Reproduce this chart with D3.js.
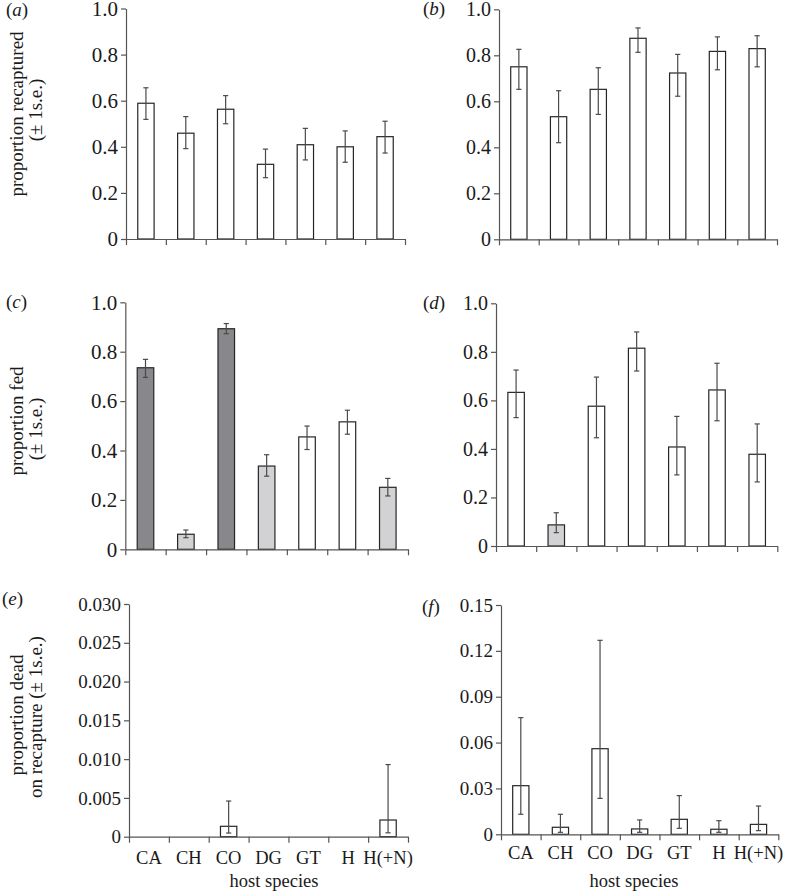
<!DOCTYPE html>
<html><head><meta charset="utf-8">
<script src="https://cdn.jsdelivr.net/npm/d3@7"></script>
<style>
body{margin:0;background:#fff}
svg{display:block}
</style>
</head><body>
<script>
// ---------- data ----------
const categories = ["CA","CH","CO","DG","GT","H","H(+N)"];

// (a) proportion recaptured
const aMean = [0.589,0.459,0.563,0.324,0.409,0.400,0.444];
const aLow  = [0.519,0.392,0.500,0.266,0.343,0.333,0.373];
const aHigh = [0.656,0.531,0.622,0.390,0.480,0.469,0.511];

// (b) proportion recaptured
const bMean = [0.750,0.533,0.652,0.874,0.723,0.817,0.829];
const bLow  = [0.652,0.420,0.543,0.813,0.622,0.737,0.750];
const bHigh = [0.826,0.646,0.746,0.919,0.804,0.880,0.885];

// (c) proportion fed
const cMean = [0.735,0.061,0.893,0.337,0.455,0.516,0.251];
const cLow  = [0.696,0.047,0.873,0.296,0.404,0.466,0.216];
const cHigh = [0.769,0.078,0.914,0.383,0.499,0.563,0.287];
const cFill = ["dark","light","dark","light","white","white","light"];

// (d) proportion fed
const dMean = [0.633,0.087,0.576,0.815,0.408,0.643,0.378];
const dLow  = [0.529,0.055,0.446,0.721,0.293,0.516,0.264];
const dHigh = [0.725,0.137,0.696,0.882,0.534,0.753,0.503];
const dFill = ["white","light","white","white","white","white","white"];

// (e) proportion dead on recapture
const eMean = [0,0,0.00134,0,0,0,0.00215];
const eLow  = [0,0,0.00047,0,0,0,0.0005];
const eHigh = [0,0,0.0046,0,0,0,0.0093];

// (f) proportion dead on recapture
const fMean = [0.0318,0.0046,0.0560,0.0035,0.0098,0.0033,0.0065];
const fLow  = [0.0131,0.0013,0.0235,0.0013,0.0039,0.0013,0.0024];
const fHigh = [0.0763,0.0131,0.1269,0.0094,0.0253,0.0089,0.0185];

const propTicks = [0,0.2,0.4,0.6,0.8,1.0];
const propTickLabels = ["0","0.2","0.4","0.6","0.8","1.0"];
const eTicks = [0,0.005,0.010,0.015,0.020,0.025,0.030];
const eTickLabels = ["0","0.005","0.010","0.015","0.020","0.025","0.030"];
const fTicks = [0,0.03,0.06,0.09,0.12,0.15];
const fTickLabels = ["0","0.03","0.06","0.09","0.12","0.15"];

const xTitle = "host species";
const yTitleA = ["proportion recaptured","(\u00b1 1s.e.)"];
const yTitleC = ["proportion fed","(\u00b1 1s.e.)"];
const yTitleE = ["proportion dead","on recapture (\u00b1 1s.e.)"];

// ---------- layout ----------
const W = 789, H = 893;
const FONT = "\"Liberation Serif\"";
const TXT = "#1a1a1a";
const fills = {white:"#ffffff", light:"#d2d2d4", dark:"#88888c"};
const AXIS = "#555", BAR = "#262626", ERR = "#4a4a4a";

const panels = [
  {id:"a", mean:aMean, lo:aLow, hi:aHigh, fill:null, x0:126, x1:405, yT:8.5, yB:239, dom:[0,1], ticks:propTicks, tl:propTickLabels, lab:[6,16], fs:21, title:yTitleA, tY:[114,110]},
  {id:"b", mean:bMean, lo:bLow, hi:bHigh, fill:null, x0:499, x1:777, yT:9.3, yB:239.3, dom:[0,1], ticks:propTicks, tl:propTickLabels, lab:[423,15], fs:20},
  {id:"c", mean:cMean, lo:cLow, hi:cHigh, fill:cFill, x0:125.3, x1:408, yT:302.3, yB:549.3, dom:[0,1], ticks:propTicks, tl:propTickLabels, lab:[6,308], fs:21, title:yTitleC, tY:[421,429]},
  {id:"d", mean:dMean, lo:dLow, hi:dHigh, fill:dFill, x0:496, x1:777.3, yT:303.3, yB:546, dom:[0,1], ticks:propTicks, tl:propTickLabels, lab:[423,309], fs:20},
  {id:"e", mean:eMean, lo:eLow, hi:eHigh, fill:null, x0:129, x1:408, yT:604, yB:836.7, dom:[0,0.03], ticks:eTicks, tl:eTickLabels, lab:[2,605], fs:19, title:yTitleE, tY:[715,717], xlab:true, catY:864, xtX:274},
  {id:"f", mean:fMean, lo:fLow, hi:fHigh, fill:null, x0:501, x1:778.3, yT:605, yB:834.3, dom:[0,0.15], ticks:fTicks, tl:fTickLabels, lab:[422,613], fs:19, xlab:true, catY:859, xtX:634}
];

const svg = d3.select("body").append("svg").attr("width",W).attr("height",H);

function txt(sel, size) {
  return sel.style("font-family",FONT).style("font-size",size+"px").style("fill",TXT);
}

panels.forEach(p => {
  const g = svg.append("g");
  const x = d3.scaleBand().domain(categories).range([p.x0,p.x1]).paddingInner(0.59).paddingOuter(0.295);
  const xb = d3.scaleLinear().domain([0,categories.length]).range([p.x0,p.x1]);
  const y = d3.scaleLinear().domain(p.dom).range([p.yB,p.yT]);

  // bars
  const data = categories.map((c,i)=>({c, m:p.mean[i], lo:p.lo[i], hi:p.hi[i], f:p.fill?p.fill[i]:"white"}));
  const nz = data.filter(d=>d.m>0);
  g.selectAll("rect.bar").data(nz).join("rect")
    .attr("x",d=>x(d.c)).attr("width",x.bandwidth())
    .attr("y",d=>y(d.m)).attr("height",d=>y(0)-y(d.m))
    .attr("fill",d=>fills[d.f]).attr("stroke",BAR).attr("stroke-width",1.2);

  // error bars
  const cap = 2.6;
  const eg = g.selectAll("g.err").data(nz).join("g").attr("stroke",ERR).attr("stroke-width",1.2);
  eg.append("line").attr("x1",d=>x(d.c)+x.bandwidth()/2).attr("x2",d=>x(d.c)+x.bandwidth()/2)
    .attr("y1",d=>y(d.lo)).attr("y2",d=>y(d.hi));
  eg.append("line").attr("x1",d=>x(d.c)+x.bandwidth()/2-cap).attr("x2",d=>x(d.c)+x.bandwidth()/2+cap)
    .attr("y1",d=>y(d.hi)).attr("y2",d=>y(d.hi));
  eg.append("line").attr("x1",d=>x(d.c)+x.bandwidth()/2-cap).attr("x2",d=>x(d.c)+x.bandwidth()/2+cap)
    .attr("y1",d=>y(d.lo)).attr("y2",d=>y(d.lo));

  // y axis
  const ya = g.append("g").attr("transform",`translate(${p.x0},0)`)
    .call(d3.axisLeft(y).tickValues(p.ticks).tickFormat((d,i)=>p.tl[i]).tickSize(5).tickSizeOuter(0).tickPadding(3));
  ya.attr("font-family",null).attr("font-size",null);
  ya.select(".domain").attr("stroke",AXIS).attr("stroke-width",1.2);
  ya.selectAll(".tick line").attr("stroke",AXIS).attr("stroke-width",1.2);
  txt(ya.selectAll(".tick text"), p.fs);

  // x axis (ticks at band boundaries)
  const xa = g.append("g").attr("transform",`translate(0,${p.yB})`)
    .call(d3.axisBottom(xb).tickValues(d3.range(categories.length+1)).tickFormat("").tickSize(6).tickSizeOuter(0));
  xa.select(".domain").attr("stroke",AXIS).attr("stroke-width",1.2);
  xa.selectAll(".tick line").attr("stroke",AXIS).attr("stroke-width",1.2);

  if (p.xlab) {
    txt(g.selectAll("text.cat").data(categories).join("text")
      .attr("x",d=>x(d)+x.bandwidth()/2).attr("y",p.catY)
      .attr("text-anchor","middle").text(d=>d), 18.5);
    txt(g.append("text").attr("x",p.xtX).attr("y",887).attr("text-anchor","middle").text(xTitle), 18.5);
  }

  // panel label
  const pl = txt(g.append("text").attr("x",p.lab[0]).attr("y",p.lab[1]), 19);
  pl.append("tspan").text("(");
  pl.append("tspan").style("font-style","italic").text(p.id);
  pl.append("tspan").text(")");

  // y title
  if (p.title) {
    const bx = [23,42];
    p.title.forEach((t,i)=>{
      txt(g.append("text").attr("transform",`translate(${bx[i]},${p.tY[i]}) rotate(-90)`)
        .attr("text-anchor","middle").text(t), 19);
    });
  }
});
</script>
</body></html>
